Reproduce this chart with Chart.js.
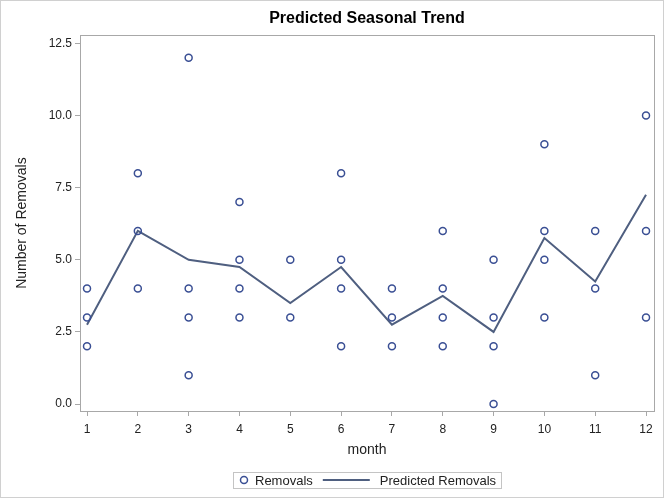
<!DOCTYPE html>
<html>
<head>
<meta charset="utf-8">
<script src="https://cdn.jsdelivr.net/npm/chart.js@4.4.0/dist/chart.umd.min.js"></script>
<style>
  html, body { margin: 0; padding: 0; background: #fff; }
  #wrap { width: 666px; height: 500px; }
</style>
</head>
<body>
<div id="wrap"><canvas id="myChart" width="666" height="500"></canvas></div>
<script>
// months and observed removals (one list per month)
const months = [1, 2, 3, 4, 5, 6, 7, 8, 9, 10, 11, 12];
const removals = [
  [4, 3, 2],
  [8, 6, 4],
  [12, 4, 3, 1],
  [7, 5, 4, 3],
  [5, 3],
  [8, 5, 4, 2],
  [4, 3, 2],
  [6, 4, 3, 2],
  [5, 3, 2, 0],
  [9, 6, 5, 3],
  [6, 4, 1],
  [10, 6, 3]
];
const predicted = [2.75, 6, 5, 4.75, 3.5, 4.75, 2.75, 3.75, 2.5, 5.75, 4.25, 7.25];
const yTicks = [0, 2.5, 5, 7.5, 10, 12.5];
const legendNames = ['Removals', 'Predicted Removals'];

const markerColor = '#3a4f94';
const lineColor = '#4f5f80';
const axisColor = '#a8a8a8';
const textColor = '#222';
const fontFam = 'Liberation Sans';

let obsPoints = [];
months.forEach((m, i) => {
  removals[i].forEach(v => obsPoints.push({x: m, y: v}));
});
const fitPoints = months.map((m, i) => ({x: m, y: predicted[i]}));

// draws plot frame, outer border and a boxed legend under the plot
const framePlugin = {
  id: 'frame',
  afterDraw(chart) {
    const ctx = chart.ctx, a = chart.chartArea;
    ctx.save();
    ctx.lineWidth = 1;
    ctx.strokeStyle = axisColor;
    ctx.strokeRect(Math.round(a.left) + 0.5, Math.round(a.top) + 0.5,
      Math.round(a.right - a.left), Math.round(a.bottom - a.top));
    ctx.strokeStyle = '#d0d0d0';
    ctx.strokeRect(0.5, 0.5, chart.width - 3, chart.height - 3);

    // legend
    ctx.font = '13px "' + fontFam + '"';
    const w1 = ctx.measureText(legendNames[0]).width;
    const w2 = ctx.measureText(legendNames[1]).width;
    const total = 11 + 11 + w1 + 10 + 47 + 10 + w2 + 5;
    const cx = (a.left + a.right) / 2;
    let x = Math.round(cx - total / 2);
    const top = 472, h = 16, yc = top + h / 2;
    ctx.strokeStyle = '#c4c4c4';
    ctx.strokeRect(x + 0.5, top + 0.5, Math.round(total), h);
    // marker
    ctx.strokeStyle = markerColor;
    ctx.lineWidth = 1.5;
    ctx.beginPath();
    ctx.arc(x + 11, yc, 3.5, 0, Math.PI * 2);
    ctx.stroke();
    ctx.fillStyle = textColor;
    ctx.textBaseline = 'middle';
    ctx.textAlign = 'left';
    let tx = x + 22;
    ctx.fillText(legendNames[0], tx, yc + 1);
    tx += w1 + 10;
    ctx.strokeStyle = lineColor;
    ctx.lineWidth = 2;
    ctx.beginPath();
    ctx.moveTo(tx, yc); ctx.lineTo(tx + 47, yc);
    ctx.stroke();
    tx += 57;
    ctx.fillText(legendNames[1], tx, yc + 1);
    ctx.restore();
  }
};

new Chart(document.getElementById('myChart'), {
  type: 'scatter',
  data: {
    datasets: [
      {
        label: legendNames[0],
        data: obsPoints,
        showLine: false,
        pointStyle: 'circle',
        pointRadius: 3.5,
        pointBorderWidth: 1.5,
        pointBorderColor: markerColor,
        pointBackgroundColor: 'rgba(0,0,0,0)',
        borderColor: markerColor,
        backgroundColor: 'rgba(0,0,0,0)'
      },
      {
        label: legendNames[1],
        data: fitPoints,
        showLine: true,
        borderColor: lineColor,
        borderWidth: 2,
        pointRadius: 0,
        fill: false
      }
    ]
  },
  options: {
    responsive: false,
    animation: false,
    layout: { padding: { left: 14, right: 12, top: 0, bottom: 33 } },
    plugins: {
      title: {
        display: true,
        fullSize: false,
        text: 'Predicted Seasonal Trend',
        color: '#000',
        font: { family: fontFam, size: 16, weight: 'bold' },
        padding: { top: 9, bottom: 7 }
      },
      legend: { display: false },
      tooltip: { enabled: false }
    },
    scales: {
      x: {
        type: 'linear',
        min: 0.862,
        max: 12.157,
        afterBuildTicks(scale) { scale.ticks = months.map(v => ({value: v})); },
        afterFit(scale) { scale.height = 56; },
        ticks: {
          color: textColor,
          font: { family: fontFam, size: 12 },
          padding: 6,
          callback: v => String(v)
        },
        grid: { display: true, drawOnChartArea: false, drawTicks: true, tickLength: 5, color: axisColor },
        border: { display: true, color: axisColor },
        title: {
          display: true, text: 'month', color: textColor,
          font: { family: fontFam, size: 14 },
          padding: { top: 6, bottom: 8 }
        }
      },
      y: {
        min: -0.24,
        max: 12.78,
        afterBuildTicks(scale) { scale.ticks = yTicks.map(v => ({value: v})); },
        afterFit(scale) { scale.width = 66; },
        ticks: {
          color: textColor,
          font: { family: fontFam, size: 12 },
          padding: 3,
          callback: v => Number(v).toFixed(1)
        },
        grid: { display: true, drawOnChartArea: false, drawTicks: true, tickLength: 5, color: axisColor },
        border: { display: true, color: axisColor },
        title: {
          display: true, text: 'Number of Removals', color: textColor,
          font: { family: fontFam, size: 14 },
          padding: { top: 0, bottom: 8 }
        }
      }
    }
  },
  plugins: [framePlugin]
});
</script>
</body>
</html>
